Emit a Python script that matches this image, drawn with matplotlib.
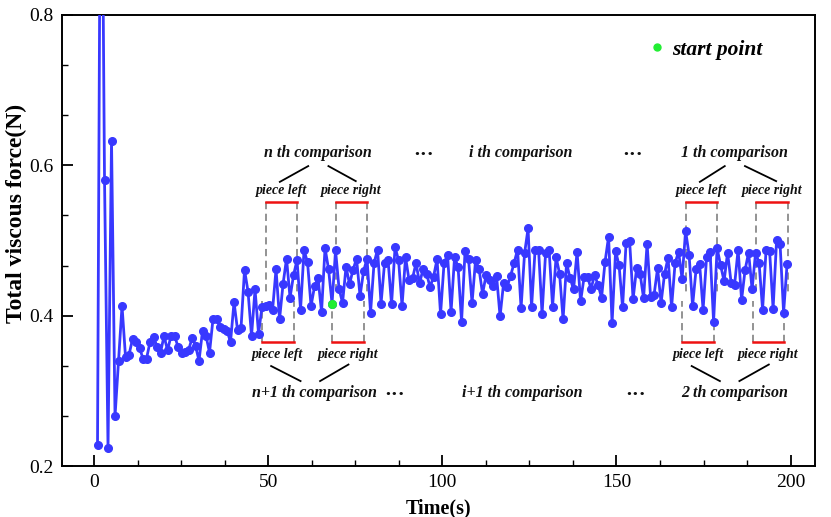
import numpy as np
import matplotlib
matplotlib.use("Agg")
import matplotlib.pyplot as plt
from matplotlib.ticker import MultipleLocator, FormatStrFormatter
from matplotlib.lines import Line2D

plt.rcParams['font.family'] = ['Liberation Serif', 'DejaVu Serif']

# ---------------- data ----------------
force = [
    0.228, 1.20, 0.581, 0.2235, 0.633, 0.266, 0.340, 0.413, 0.345, 0.348,
    0.369, 0.365, 0.357, 0.343, 0.343, 0.365, 0.372, 0.359, 0.351, 0.373,
    0.354, 0.373, 0.373, 0.359, 0.350, 0.352, 0.354, 0.370, 0.360, 0.340,
    0.380, 0.373, 0.351, 0.396, 0.396, 0.385, 0.382, 0.380, 0.365, 0.418,
    0.381, 0.384, 0.461, 0.432, 0.373, 0.435, 0.376, 0.412, 0.413, 0.414,
    0.407, 0.462, 0.395, 0.442, 0.476, 0.424, 0.454, 0.474, 0.408, 0.487,
    0.471, 0.413, 0.439, 0.450, 0.405, 0.490, 0.462, 0.416, 0.487, 0.436,
    0.417, 0.465, 0.442, 0.461, 0.476, 0.426, 0.459, 0.476, 0.404, 0.470,
    0.488, 0.416, 0.470, 0.474, 0.415, 0.491, 0.474, 0.413, 0.478, 0.447,
    0.450, 0.470, 0.443, 0.462, 0.456, 0.438, 0.452, 0.475, 0.402, 0.470,
    0.481, 0.405, 0.478, 0.465, 0.392, 0.486, 0.475, 0.417, 0.474, 0.462,
    0.429, 0.454, 0.448, 0.440, 0.453, 0.399, 0.443, 0.438, 0.453, 0.470,
    0.488, 0.410, 0.483, 0.516, 0.411, 0.487, 0.488, 0.402, 0.483, 0.488,
    0.412, 0.478, 0.456, 0.395, 0.470, 0.450, 0.435, 0.485, 0.419, 0.451,
    0.451, 0.436, 0.454, 0.441, 0.424, 0.472, 0.505, 0.390, 0.486, 0.467,
    0.411, 0.497, 0.500, 0.422, 0.463, 0.456, 0.423, 0.496, 0.425, 0.428,
    0.463, 0.417, 0.456, 0.477, 0.411, 0.470, 0.485, 0.449, 0.513, 0.481,
    0.413, 0.462, 0.469, 0.408, 0.478, 0.485, 0.392, 0.490, 0.467, 0.446,
    0.484, 0.444, 0.441, 0.488, 0.421, 0.461, 0.484, 0.435, 0.484, 0.470,
    0.408, 0.488, 0.486, 0.409, 0.501, 0.495, 0.404, 0.469,
]
time = np.linspace(1, 199, len(force))
start_index = 67

x_ticks = [0, 50, 100, 150, 200]
y_ticks = [0.2, 0.4, 0.6, 0.8]

# comparison pieces (time intervals)
top_pieces = [(49.4, 58.3), (69.4, 78.5), (169.9, 179.0), (190.1, 199.2)]
bottom_pieces = [(48.1, 57.4), (68.4, 77.5), (168.9, 178.1), (189.1, 198.2)]
top_piece_y = 0.5515
bottom_piece_y = 0.3645

top_titles = ["n th comparison", "i th comparison", "1 th comparison"]
top_title_x = [64.4, 122.6, 184.0]
bottom_titles = ["n+1 th comparison", "i+1 th comparison", "2 th comparison"]
bottom_title_x = [63.4, 122.9, 183.8]

# ---------------- figure ----------------
fig = plt.figure(figsize=(8.31, 5.17), dpi=100)
ax = fig.add_axes([0.0746, 0.0986, 0.9061, 0.8724])

blue = '#3838ff'
ax.plot(time, force, '-o', color=blue, lw=2.0, ms=5.5, zorder=3)
ax.plot(time[start_index], force[start_index], 'o', color='#22ee33', ms=5.5,
        zorder=4, linestyle='none')

# dashed guide lines and red piece markers
dash_kw = dict(color='#8a8a8a', lw=1.3, linestyle=(0, (4, 2.5)), zorder=2)
for a, b in top_pieces:
    ax.plot([a, a], [top_piece_y, 0.43], **dash_kw)
    ax.plot([b, b], [top_piece_y, 0.43], **dash_kw)
    ax.plot([a, b], [top_piece_y, top_piece_y], color='#ee1111', lw=1.8, zorder=2)
for a, b in bottom_pieces:
    ax.plot([a, a], [bottom_piece_y, 0.42], **dash_kw)
    ax.plot([b, b], [bottom_piece_y, 0.42], **dash_kw)
    ax.plot([a, b], [bottom_piece_y, bottom_piece_y], color='#ee1111', lw=1.8, zorder=2)

ann = dict(fontweight='bold', fontstyle='italic', ha='center', va='center', color='#111111')
# piece labels
for (a, b), lab in zip(top_pieces, ["piece left", "piece right"] * 2):
    ax.text((a + b) / 2, 0.566, lab, fontsize=10, **ann)
for (a, b), lab in zip(bottom_pieces, ["piece left", "piece right"] * 2):
    ax.text((a + b) / 2, 0.348, lab, fontsize=10, **ann)

for xc, t in zip(top_title_x, top_titles):
    ax.text(xc, 0.617, t, fontsize=11.5, **ann)
for xc, t in zip(bottom_title_x, bottom_titles):
    ax.text(xc, 0.297, t, fontsize=11.5, **ann)
dots = dict(fontweight='bold', ha='center', va='center', color='#111111', fontsize=15)
for xc in [94.7, 154.5]:
    ax.text(xc, 0.614, "···", **dots)
for xc in [86.4, 155.6]:
    ax.text(xc, 0.294, "···", **dots)

# connector lines
line_kw = dict(color='black', lw=1.3, zorder=2)
for xc, (l, r) in zip([top_title_x[0], top_title_x[2]], [(top_pieces[0], top_pieces[1]), (top_pieces[2], top_pieces[3])]):
    ax.plot([xc - 2.9, (l[0] + l[1]) / 2 - 0.5], [0.599, 0.578], **line_kw)
    ax.plot([xc + 2.9, (r[0] + r[1]) / 2 + 1.2], [0.599, 0.579], **line_kw)
for xc, (l, r) in zip([bottom_title_x[0], bottom_title_x[2]], [(bottom_pieces[0], bottom_pieces[1]), (bottom_pieces[2], bottom_pieces[3])]):
    ax.plot([(l[0] + l[1]) / 2 - 1.9, xc - 4.1], [0.333, 0.313], **line_kw)
    ax.plot([(r[0] + r[1]) / 2 + 0.1, xc + 1.5], [0.335, 0.313], **line_kw)

# legend
handle = Line2D([], [], marker='o', color='#22ee33', linestyle='none', ms=5)
leg = ax.legend([handle], ['start point'], loc='upper left',
                bbox_to_anchor=(0.750, 0.988), frameon=False, handletextpad=0.2,
                handlelength=1.0,
                prop=dict(family='Liberation Serif', weight='bold', style='italic', size=15.5))

# axes formatting
ax.set_xlim(-9.2, 207)
ax.set_ylim(0.2, 0.8)
ax.set_xticks(x_ticks)
ax.set_yticks(y_ticks)
ax.yaxis.set_major_formatter(FormatStrFormatter('%.1f'))
ax.xaxis.set_minor_locator(MultipleLocator(12.5))
ax.yaxis.set_minor_locator(MultipleLocator(0.2 / 3))
ax.tick_params(which='major', direction='in', length=8, width=1.3, labelsize=14,
               top=False, right=False, pad=6)
ax.tick_params(which='minor', direction='in', length=4, width=1.0, top=False, right=False)
for s in ax.spines.values():
    s.set_linewidth(1.4)

ax.set_xlabel('Time(s)', fontsize=14.5, fontweight='bold', labelpad=5)
ax.set_ylabel('Total viscous force(N)', fontsize=17, fontweight='bold')
ax.yaxis.set_label_coords(-0.047, 0.56)

fig.savefig('out.png', dpi=100)
